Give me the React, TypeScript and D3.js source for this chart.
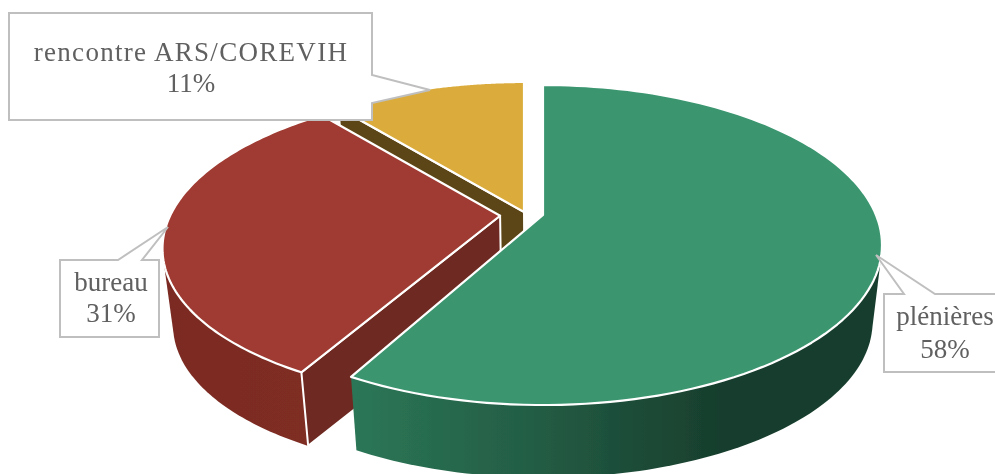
import * as d3 from 'd3';

const categories = ['plénières', 'bureau', 'rencontre ARS/COREVIH'];
const values = [58, 31, 11];
const topColors = ['#3a9670', '#9f3a30', '#dbac3a'];
const faceColors = ['#1f5a40', '#6e2a20', '#5c4412'];

const width = 995;
const height = 474;

// perspective of the pie plane
const persp = 0.1875;
const scaleU = 333;
const scaleV = 154.4;
const depth = 78;
const shrink = 0.972;
const cx = 543;
const cy = 215;

// how far each slice is pulled out: in plane units, then on screen
const explodeU = [0, -0.13, 0];
const explodeV = [0, 0.005, 0];
const shiftX = [0, 0, -19];
const shiftY = [0, 0, -3];
const squashX = [1, 0.99, 1];
const squashY = [1, 0.965, 1];

const pie = d3.pie<number>().sort(null);
const slices = pie(values);
const lineGen = d3.line();

function project(theta: number, r: number, i: number, low: boolean): [number, number] {
  const u = r * Math.sin(theta) + explodeU[i];
  const v = -r * Math.cos(theta) + explodeV[i];
  const w = 1 - persp * v;
  const x = ((scaleU * u) / w) * squashX[i] + shiftX[i];
  const y = ((scaleV * v) / w) * squashY[i] + shiftY[i];
  if (low) return [cx + x * shrink, cy + y * shrink + depth];
  return [cx + x, cy + y];
}

function arcPoints(a0: number, a1: number, i: number, low: boolean) {
  const thetas = d3.range(0, 121).map(k => a0 + ((a1 - a0) * k) / 120);
  return thetas.map(t => project(t, 1, i, low));
}

function topPath(i: number) {
  const s = slices[i];
  return lineGen([project(0, 0, i, false), ...arcPoints(s.startAngle, s.endAngle, i, false)]) + 'Z';
}

// outline of the extruded rim, straight tangents included
function wallPath(i: number) {
  const s = slices[i];
  const a0 = i === 0 ? s.startAngle + 1 : s.startAngle;
  const pts = [...arcPoints(a0, s.endAngle, i, false), ...arcPoints(a0, s.endAngle, i, true)];
  return lineGen(d3.polygonHull(pts)!) + 'Z';
}

function cutPath(theta: number, i: number) {
  return (
    lineGen([
      project(0, 0, i, false),
      project(theta, 1, i, false),
      project(theta, 1, i, true),
      project(0, 0, i, true),
    ]) + 'Z'
  );
}

const gray = '#bfbfbf';
const textColor = '#606060';

function Callout({ d, lines, x, ys, spacing = 0 }: { d: string; lines: string[]; x: number; ys: number[]; spacing?: number }) {
  return (
    <g>
      <path d={d} fill="#fff" stroke={gray} strokeWidth={2} />
      {lines.map((t, k) => (
        <text key={k} x={x} y={ys[k]} textAnchor="middle" fontSize={27} fill={textColor}
          letterSpacing={k === 0 ? spacing : 0} fontFamily="'Liberation Serif', serif">
          {t}
        </text>
      ))}
    </g>
  );
}

export default function App() {
  return (
    <svg width={width} height={height} viewBox={`0 0 ${width} ${height}`}
      style={{ position: 'absolute', left: 0, top: 0, display: 'block', background: '#fff' }}>
      <defs>
        <filter id="soft" x="-5%" y="-5%" width="110%" height="110%">
          <feGaussianBlur stdDeviation="0.5" />
        </filter>
        <linearGradient id="wall0" gradientUnits="userSpaceOnUse" x1={355} x2={720} y1={0} y2={0}>
          <stop offset="0" stopColor="#2b7656" />
          <stop offset="0.5" stopColor="#235c44" />
          <stop offset="1" stopColor="#183e2d" />
        </linearGradient>
        <linearGradient id="wall1" gradientUnits="userSpaceOnUse" x1={160} x2={310} y1={0} y2={0}>
          <stop offset="0" stopColor="#7a2b22" />
          <stop offset="1" stopColor="#7f2d24" />
        </linearGradient>
      </defs>
      <g filter="url(#soft)">
        {/* back to front: yellow, red, green */}
        {[2, 1, 0].map(i => (
          <g key={i}>
            {i !== 2 && <path d={wallPath(i)} fill={`url(#wall${i})`} />}
            {i !== 0 && (
              <path d={cutPath(slices[i].startAngle, i)}
                fill={faceColors[i]} stroke="#fff" strokeWidth={2} strokeLinejoin="round" />
            )}
            <path d={topPath(i)} fill={topColors[i]} stroke="#fff" strokeWidth={2.2} strokeLinejoin="round" />
          </g>
        ))}
        <Callout
          d="M9,13H372V75L430,90L372,103V120H9Z"
          lines={[categories[2], `${values[2]}%`]}
          x={191}
          ys={[61, 92]}
          spacing={1.3}
        />
        <Callout
          d="M60,260H118L168,227L142,260H159V337H60Z"
          lines={[categories[1], `${values[1]}%`]}
          x={111}
          ys={[291, 322]}
        />
        <Callout
          d="M884,294H904L876,255L935,294H1000V372H884Z"
          lines={[categories[0], `${values[0]}%`]}
          x={945}
          ys={[325, 358]}
        />
      </g>
    </svg>
  );
}
